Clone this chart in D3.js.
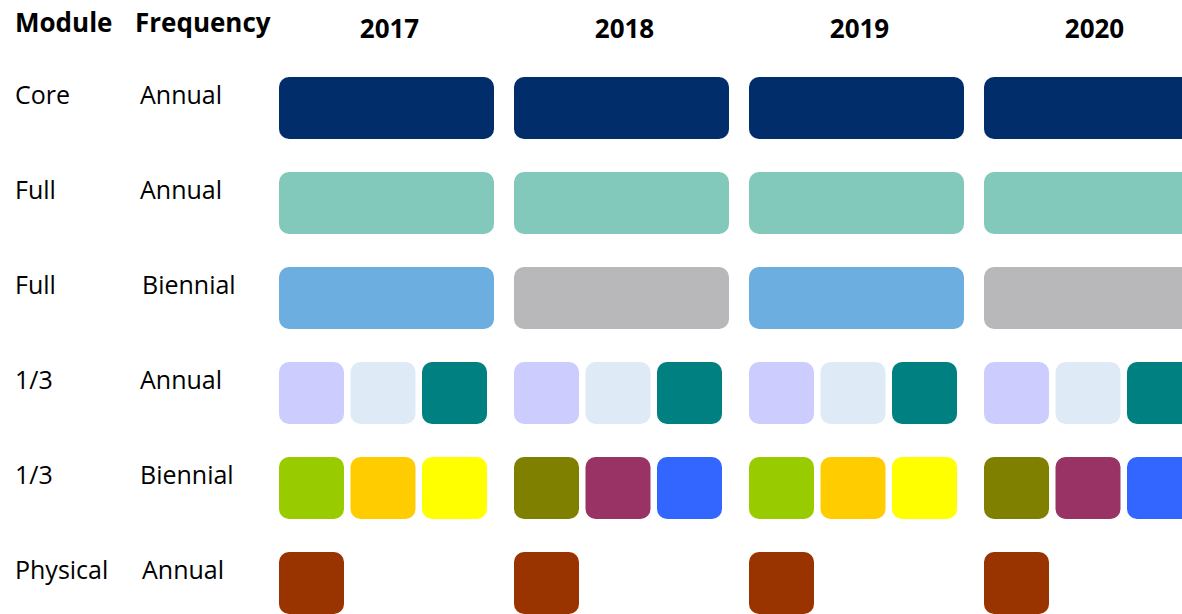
<!DOCTYPE html>
<html>
<head>
<meta charset="utf-8">
<script src="https://cdn.jsdelivr.net/npm/d3@7"></script>
<style>
  body { margin: 0; background: #fff; }
  text { font-family: "Open Sans", sans-serif; fill: #000; }
  .hdr { font-weight: bold; font-size: 26px; }
  .lbl { font-size: 25px; }
</style>
</head>
<body>
<div id="chart"></div>
<script>
// years across the top, one row per module / frequency
var years = ["2017", "2018", "2019", "2020"];
var modules = ["Core", "Full", "Full", "1/3", "1/3", "Physical"];
var frequencies = ["Annual", "Annual", "Biennial", "Annual", "Biennial", "Annual"];

// what each row holds in each year: one whole-year block or thirds
var coreRow = [["core"], ["core"], ["core"], ["core"]];
var fullAnnualRow = [["fullA"], ["fullA"], ["fullA"], ["fullA"]];
var fullBiennialRow = [["fullB1"], ["fullB2"], ["fullB1"], ["fullB2"]];
var thirdAnnualRow = [["tA1", "tA2", "tA3"], ["tA1", "tA2", "tA3"], ["tA1", "tA2", "tA3"], ["tA1", "tA2", "tA3"]];
var thirdBiennialRow = [["tB1", "tB2", "tB3"], ["tB4", "tB5", "tB6"], ["tB1", "tB2", "tB3"], ["tB4", "tB5", "tB6"]];
var physicalRow = [["phys"], ["phys"], ["phys"], ["phys"]];
var rowWhole = [true, true, true, false, false, false];

var groupIds = ["core", "fullA", "fullB1", "fullB2", "tA1", "tA2", "tA3", "tB1", "tB2", "tB3", "tB4", "tB5", "tB6", "phys"];
var groupColours = ["#012d6a", "#82c9bb", "#6caee0", "#b8b8ba", "#ccccff", "#deebf7", "#008080",
  "#99cc00", "#ffcc00", "#ffff00", "#808000", "#993366", "#3366ff", "#993300"];

var rows = [coreRow, fullAnnualRow, fullBiennialRow, thirdAnnualRow, thirdBiennialRow, physicalRow];

var w = 1182, h = 614;
var svg = d3.select("#chart").append("svg").attr("width", w).attr("height", h);

var x = d3.scaleBand().domain(years).range([279, 1199]).paddingInner(20 / 235);
var y = d3.scaleBand().domain(d3.range(rows.length)).range([77, 614]).paddingInner(33 / 95);
var sub = d3.scaleBand().domain([0, 1, 2]).range([0, x.bandwidth() - 7]).paddingInner(6.5 / 71.5);
var colour = d3.scaleOrdinal().domain(groupIds).range(groupColours);

// headers
svg.append("text").attr("class", "hdr").attr("x", 15).attr("y", 32).text("Module");
svg.append("text").attr("class", "hdr").attr("x", 135).attr("y", 32).text("Frequency");
svg.selectAll(".yr").data(years).enter().append("text")
  .attr("class", "hdr yr")
  .attr("x", function(d) { return x(d) + x.bandwidth() / 2 + 3; })
  .attr("y", 38)
  .attr("text-anchor", "middle")
  .text(function(d) { return d; });

// row labels (text boxes in the original were nudged by hand a little)
var freqNudge = [0, 0, 2, 0, 0, 2];
svg.selectAll(".mod").data(modules).enter().append("text")
  .attr("class", "lbl mod")
  .attr("x", 15)
  .attr("y", function(d, i) { return y(i) + 27; })
  .text(function(d) { return d; });
svg.selectAll(".freq").data(frequencies).enter().append("text")
  .attr("class", "lbl freq")
  .attr("x", function(d, i) { return 140 + freqNudge[i]; })
  .attr("y", function(d, i) { return y(i) + 27; })
  .text(function(d) { return d; });

// blocks
var cells = [];
rows.forEach(function(row, r) {
  row.forEach(function(parts, yi) {
    parts.forEach(function(g, k) {
      cells.push({ row: r, year: years[yi], part: k, group: g, whole: rowWhole[r] });
    });
  });
});

svg.selectAll(".cell").data(cells).enter().append("rect")
  .attr("class", "cell")
  .attr("x", function(d) { return x(d.year) + (d.whole ? 0 : sub(d.part)); })
  .attr("y", function(d) { return y(d.row); })
  .attr("width", function(d) { return d.whole ? x.bandwidth() : sub.bandwidth(); })
  .attr("height", y.bandwidth())
  .attr("rx", 10)
  .attr("ry", 10)
  .style("fill", function(d) { return colour(d.group); });
</script>
</body>
</html>
